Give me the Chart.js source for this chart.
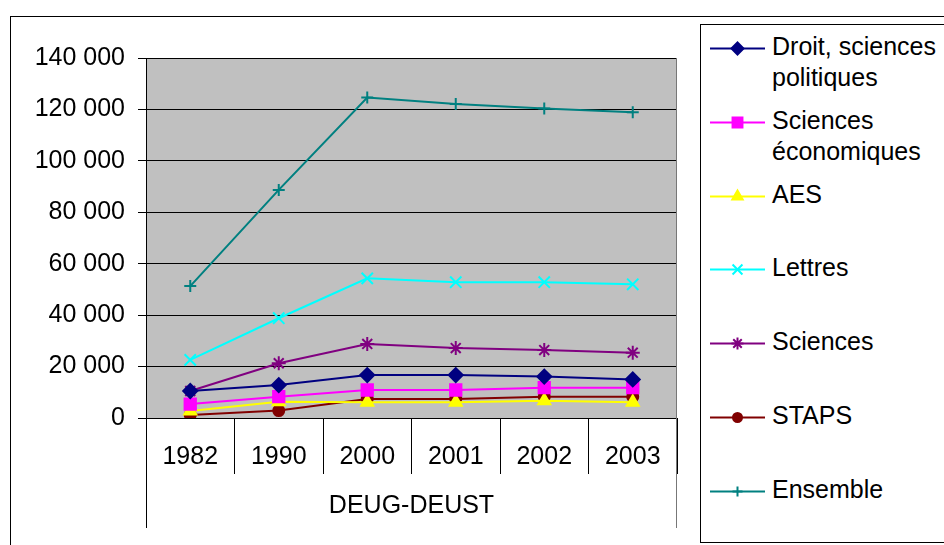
<!DOCTYPE html>
<html>
<head>
<meta charset="utf-8">
<script src="https://cdn.jsdelivr.net/npm/chart.js@4/dist/chart.umd.min.js"></script>
<style>
  html, body { margin: 0; padding: 0; width: 944px; height: 545px; overflow: hidden; background: #fff; }
  #frame { position: absolute; left: 10px; top: 16px; width: 1000px; height: 600px; border: 1px solid #000; }
  #wrap { position: absolute; left: 0; top: 0; width: 944px; height: 545px; }
  #legend { position: absolute; left: 700px; top: 24px; width: 300px; height: 517px; border: 1px solid #000;
            background: #fff; font-family: "Liberation Sans", Arial, sans-serif; font-size: 25px; color: #000; }
  .item { position: absolute; left: 0; width: 300px; height: 74px; }
  .item canvas { position: absolute; left: 8px; top: 0; }
  .item span { position: absolute; left: 71px; top: 0; line-height: 31px; white-space: pre; }
</style>
</head>
<body>
<div id="frame"></div>
<div id="wrap"><canvas id="chart" width="944" height="545"></canvas></div>
<div id="legend"></div>
<script>
// données (effectifs DEUG-DEUST)
const years = ['1982', '1990', '2000', '2001', '2002', '2003'];
const droit = [10500, 12800, 16700, 16700, 16100, 15000];
const sciEco = [5400, 8300, 10900, 10900, 11800, 11800];
const aes = [2700, 6300, 6100, 6100, 6700, 6100];
const lettres = [22600, 38800, 54300, 52800, 52800, 52000];
const sciences = [10500, 21300, 28800, 27200, 26400, 25400];
const staps = [1200, 2900, 7400, 7400, 8300, 8300];
const ensemble = [51300, 88700, 124600, 122100, 120400, 118900];
const groupLabel = 'DEUG-DEUST';
const yTicks = [0, 20000, 40000, 60000, 80000, 100000, 120000, 140000];

const series = [
  { label: 'Droit, sciences\npolitiques', data: droit, color: '#000080', style: 'rectRot', r: 7 },
  { label: 'Sciences\néconomiques', data: sciEco, color: '#FF00FF', style: 'rect', r: 8 },
  { label: 'AES', data: aes, color: '#FFFF00', style: 'triangle', r: 7 },
  { label: 'Lettres', data: lettres, color: '#00FFFF', style: 'crossRot', r: 8 },
  { label: 'Sciences', data: sciences, color: '#800080', style: 'star', r: 7 },
  { label: 'STAPS', data: staps, color: '#800000', style: 'circle', r: 5.5 },
  { label: 'Ensemble', data: ensemble, color: '#008080', style: 'cross', r: 6 }
];

const fmt = v => String(v).replace(/\B(?=(\d{3})+(?!\d))/g, ' ');
const font = { family: '"Liberation Sans", Arial, sans-serif', size: 25 };

const plotBg = {
  id: 'plotBg',
  beforeDraw(chart) {
    const { ctx, chartArea: a } = chart;
    ctx.save();
    ctx.fillStyle = '#C0C0C0';
    ctx.fillRect(a.left, a.top, a.right - a.left, a.bottom - a.top);
    ctx.restore();
  },
  afterDraw(chart) {
    const { ctx, chartArea: a } = chart;
    ctx.save();
    ctx.lineWidth = 1;
    ctx.strokeStyle = '#000';
    ctx.beginPath();
    ctx.moveTo(a.left + 0.5, a.bottom);
    ctx.lineTo(a.left + 0.5, 528);
    ctx.stroke();
    ctx.strokeStyle = '#777';
    ctx.beginPath();
    ctx.moveTo(a.right - 0.5, a.top);
    ctx.lineTo(a.right - 0.5, 528);
    ctx.stroke();
    ctx.restore();
  }
};

new Chart(document.getElementById('chart'), {
  type: 'line',
  data: {
    labels: years,
    datasets: series.map(s => ({
      label: s.label,
      data: s.data,
      borderColor: s.color,
      backgroundColor: s.color,
      pointBackgroundColor: s.color,
      pointBorderColor: s.color,
      pointStyle: s.style,
      pointRadius: s.r,
      pointBorderWidth: 2,
      borderWidth: 2,
      tension: 0
    }))
  },
  options: {
    responsive: false,
    animation: false,
    layout: { padding: { left: 0, top: 58, right: 267, bottom: 0 } },
    plugins: { legend: { display: false }, tooltip: { enabled: false } },
    scales: {
      x: {
        offset: true,
        afterFit: s => { s.height = 127; },
        grid: { offset: true, drawOnChartArea: false, color: '#000', tickLength: 56, lineWidth: 1 },
        border: { color: '#000' },
        ticks: { color: '#000', font: font, padding: -32, maxRotation: 0 },
        title: { display: true, text: groupLabel, color: '#000', font: font, padding: { top: 0, bottom: 24 } }
      },
      y: {
        min: 0,
        max: 140000,
        afterFit: s => { s.width = 146; },
        afterBuildTicks: s => { s.ticks = yTicks.map(v => ({ value: v })); },
        grid: { color: '#000', tickLength: 8, lineWidth: 1 },
        border: { color: '#000' },
        ticks: { color: '#000', font: font, padding: 13, callback: v => fmt(v) }
      }
    }
  },
  plugins: [plotBg]
});

// légende à droite
const legend = document.getElementById('legend');
series.forEach((s, i) => {
  const item = document.createElement('div');
  item.className = 'item';
  item.style.top = (6 + i * 73.8) + 'px';
  const c = document.createElement('canvas');
  c.width = 58; c.height = 31;
  const ctx = c.getContext('2d');
  ctx.strokeStyle = s.color;
  ctx.fillStyle = s.color;
  ctx.lineWidth = 2;
  ctx.beginPath();
  ctx.moveTo(1, 17.5); ctx.lineTo(56, 17.5);
  ctx.stroke();
  if (Chart.helpers && Chart.helpers.drawPoint) {
    Chart.helpers.drawPoint(ctx, { pointStyle: s.style, radius: s.r - 1, rotation: 0, borderWidth: 2 }, 28.5, 17.5);
  }
  item.appendChild(c);
  const t = document.createElement('span');
  t.textContent = s.label;
  item.appendChild(t);
  legend.appendChild(item);
});
</script>
</body>
</html>
